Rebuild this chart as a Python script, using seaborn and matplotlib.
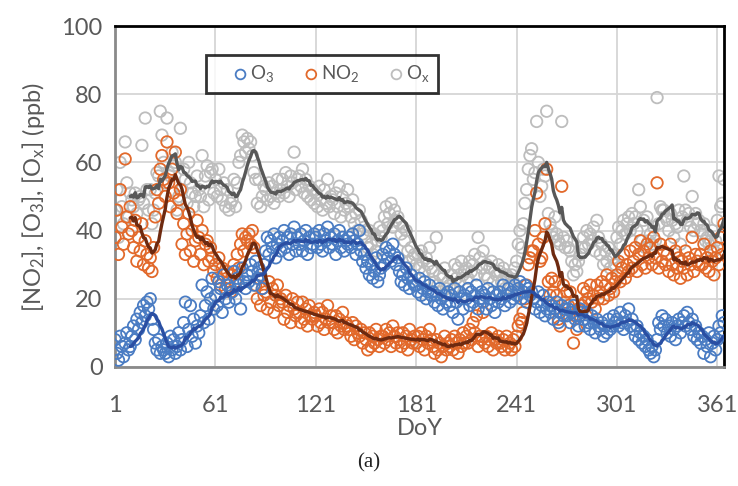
import numpy as np
import pandas as pd
import matplotlib
matplotlib.use("Agg")
import matplotlib.pyplot as plt
import seaborn as sns

# ---------------- data (daily values, ppb) ----------------
o3 = [
    8, 4, 2, 9, 6, 3, 7, 10, 5, 6,
    9, 12, 8, 14, 11, 16, 13, 18, 15, 19,
    17, 20, 14, 11, 7, 5, 8, 4, 6, 5,
    4, 7, 3, 9, 5, 8, 4, 6, 10, 5,
    8, 13, 19, 6, 11, 18, 9, 14, 7, 12,
    10, 15, 24, 13, 18, 22, 14, 20, 26, 17,
    21, 18, 25, 23, 16, 27, 20, 24, 19, 23,
    22, 28, 20, 26, 24, 17, 29, 25, 23, 27,
    25, 30, 28, 24, 31, 26, 29, 27, 23, 30,
    34, 38, 33, 37, 35, 39, 32, 36, 38, 34,
    37, 40, 35, 38, 33, 39, 36, 41, 34, 38,
    36, 39, 34, 37, 40, 33, 38, 35, 36, 39,
    38, 35, 40, 36, 34, 39, 37, 41, 35, 38,
    36, 39, 33, 37, 40, 35, 38, 34, 37, 36,
    38, 35, 39, 37, 33, 36, 40, 34, 31, 33,
    29, 31, 27, 30, 26, 28, 32, 25, 27, 29,
    33, 30, 35, 32, 34, 31, 36, 33, 30, 32,
    28, 25, 27, 24, 29, 26, 23, 27, 25, 24,
    24, 22, 26, 21, 23, 25, 20, 22, 24, 21,
    22, 19, 21, 18, 23, 20, 17, 21, 19, 22,
    18, 21, 16, 23, 19, 14, 22, 20, 17, 21,
    20, 23, 18, 22, 19, 21, 24, 17, 20, 22,
    19, 21, 17, 23, 20, 18, 22, 16, 21, 19,
    22, 20, 24, 18, 21, 23, 19, 22, 20, 24,
    21, 23, 25, 20, 22, 24, 19, 23, 21, 22,
    20, 17, 19, 22, 16, 18, 21, 15, 17, 19,
    16, 18, 14, 17, 19, 13, 16, 18, 15, 17,
    15, 17, 13, 16, 18, 14, 15, 12, 17, 16,
    14, 12, 16, 13, 11, 15, 13, 10, 14, 12,
    11, 13, 9, 12, 10, 14, 11, 12, 15, 13,
    14, 12, 16, 13, 11, 15, 13, 17, 12, 14,
    11, 9, 12, 8, 10, 7, 9, 6, 8, 5,
    4, 6, 3, 5, 8, 13, 11, 15, 12, 14,
    10, 12, 9, 13, 11, 8, 12, 14, 10, 13,
    15, 12, 16, 13, 11, 14, 9, 12, 8, 10,
    7, 9, 4, 8, 6, 10, 3, 7, 9, 5,
    8, 12, 10, 15, 13,
]

no2 = [
    38, 46, 33, 52, 41, 36, 61, 44, 39, 47,
    40, 35, 43, 31, 38, 34, 42, 30, 37, 33,
    29, 32, 28, 35, 44, 52, 48, 58, 62, 55,
    50, 66, 54, 47, 58, 51, 63, 45, 49, 52,
    36, 42, 33, 39, 45, 34, 40, 31, 37, 43,
    38, 33, 40, 30, 36, 37, 31, 35, 32, 28,
    30, 26, 32, 24, 29, 27, 23, 28, 25, 22,
    27, 30, 25, 33, 29, 36, 39, 34, 38, 37,
    39, 36, 40, 35, 24, 20, 26, 18, 23, 21,
    22, 17, 25, 19, 23, 16, 21, 24, 18, 20,
    19, 14, 21, 16, 18, 13, 20, 17, 15, 19,
    16, 13, 19, 14, 17, 12, 18, 15, 14, 16,
    15, 12, 17, 13, 16, 11, 14, 18, 13, 15,
    13, 11, 15, 10, 14, 12, 16, 11, 13, 12,
    11, 9, 13, 8, 12, 10, 9, 11, 7, 10,
    8, 5, 10, 6, 9, 7, 11, 8, 6, 9,
    9, 7, 11, 8, 10, 6, 12, 9, 7, 10,
    8, 6, 10, 7, 9, 5, 11, 8, 7, 9,
    7, 9, 6, 10, 8, 5, 9, 7, 11, 8,
    6, 4, 8, 5, 7, 3, 6, 9, 5, 7,
    6, 8, 5, 9, 7, 4, 8, 6, 10, 7,
    9, 7, 11, 8, 13, 10, 15, 6, 9, 8,
    16, 7, 9, 6, 8, 10, 5, 8, 7, 9,
    7, 6, 8, 5, 9, 6, 7, 5, 8, 6,
    9, 12, 14, 13, 16, 20, 24, 30, 32, 34,
    34, 40, 51, 36, 31, 32, 38, 42, 58, 25,
    21, 26, 22, 25, 21, 14, 12, 53, 24, 19,
    22, 18, 22, 16, 7, 15, 11, 17, 15, 18,
    23, 19, 22, 20, 24, 19, 21, 17, 24, 20,
    22, 25, 20, 24, 27, 21, 23, 26, 22, 25,
    27, 31, 25, 29, 33, 26, 30, 28, 34, 29,
    31, 35, 28, 33, 37, 30, 34, 29, 36, 32,
    35, 30, 38, 32, 54, 29, 36, 31, 34, 30,
    33, 28, 36, 30, 27, 34, 29, 32, 26, 31,
    29, 34, 27, 32, 30, 38, 28, 33, 31, 30,
    33, 30, 36, 29, 32, 28, 34, 31, 27, 32,
    35, 30, 38, 33, 42,
]

ox = [
    46, 52, 38, 60, 47, 42, 66, 54, 44, 51,
    49, 47, 51, 45, 49, 50, 65, 48, 73, 52,
    46, 52, 42, 46, 51, 57, 56, 75, 68, 60,
    54, 73, 57, 56, 63, 59, 60, 46, 50, 70,
    52, 58, 55, 48, 60, 54, 51, 47, 50, 56,
    52, 50, 62, 47, 56, 59, 49, 57, 58, 51,
    55, 50, 58, 52, 49, 54, 47, 52, 46, 48,
    49, 55, 47, 54, 60, 62, 68, 66, 63, 67,
    64, 66, 62, 57, 55, 48, 55, 47, 50, 53,
    52, 49, 54, 50, 53, 48, 51, 55, 50, 52,
    55, 51, 57, 53, 50, 56, 54, 63, 52, 55,
    56, 53, 58, 51, 55, 50, 53, 49, 52, 48,
    51, 47, 53, 49, 46, 52, 48, 55, 47, 50,
    49, 45, 51, 47, 53, 44, 50, 46, 48, 52,
    47, 44, 49, 42, 45, 40, 46, 43, 39, 41,
    38, 35, 40, 36, 33, 39, 34, 37, 41, 38,
    40, 44, 47, 42, 45, 48, 41, 46, 43, 44,
    42, 39, 41, 37, 40, 34, 31, 35, 32, 33,
    30, 33, 29, 34, 31, 28, 32, 30, 35, 29,
    28, 25, 38, 24, 27, 22, 26, 29, 23, 25,
    24, 27, 23, 30, 26, 29, 25, 31, 27, 28,
    29, 26, 31, 28, 30, 33, 27, 38, 32, 29,
    34, 27, 30, 26, 29, 31, 25, 28, 27, 30,
    28, 25, 29, 23, 27, 26, 24, 27, 25, 29,
    31, 36, 40, 35, 42, 48, 52, 58, 62, 64,
    55, 57, 72, 60, 50, 53, 58, 56, 75, 45,
    42, 40, 38, 44, 39, 37, 36, 72, 38, 35,
    37, 35, 34, 31, 27, 30, 28, 31, 33, 35,
    38, 35, 40, 36, 39, 37, 41, 34, 43, 38,
    33, 36, 30, 34, 31, 35, 29, 33, 32, 30,
    38, 41, 36, 40, 43, 39, 42, 44, 40, 45,
    42, 44, 40, 52, 47, 37, 43, 35, 44, 37,
    39, 36, 41, 37, 79, 42, 47, 46, 46, 44,
    43, 40, 45, 43, 38, 42, 41, 46, 36, 44,
    56, 46, 43, 45, 41, 50, 40, 45, 42, 43,
    40, 39, 42, 37, 38, 36, 37, 40, 34, 37,
    43, 56, 47, 48, 55,
]

x_ticks = [1, 61, 121, 181, 241, 301, 361]
y_ticks = [0, 20, 40, 60, 80, 100]
ma_window = 10

# ---------------- style ----------------
sns.set_theme(style="white")
plt.rcParams["font.family"] = ["Lato", "DejaVu Sans"]
plt.rcParams["mathtext.default"] = "regular"

c_o3, c_no2, c_ox = "#4A7CC3", "#E2692B", "#BDBDBD"
l_o3, l_no2, l_ox = "#2A4FA3", "#6E2A10", "#585858"
txt = "#595959"

doy = np.arange(1, len(o3) + 1)
df = pd.DataFrame({"DoY": doy, "O3": o3, "NO2": no2, "Ox": ox})
for c in ["O3", "NO2", "Ox"]:
    df[c + "_ma"] = df[c].rolling(ma_window).mean()

fig = plt.figure(figsize=(7.38, 4.86), dpi=100)
ax = fig.add_axes([0.156, 0.245, 0.825, 0.7015])

ax.set_xlim(1, 365)
ax.set_ylim(0, 100)
ax.set_xticks(x_ticks)
ax.set_yticks(y_ticks)
ax.grid(True, color="#D6D6D6", linewidth=1.3)
ax.set_axisbelow(True)

ms = 68
lw = 1.3
sns.scatterplot(data=df, x="DoY", y="Ox", ax=ax, s=ms, marker="o",
                facecolor="none", edgecolor=c_ox, linewidth=lw, label="O$_x$", zorder=2)
sns.scatterplot(data=df, x="DoY", y="NO2", ax=ax, s=ms, marker="o",
                facecolor="none", edgecolor=c_no2, linewidth=lw, label="NO$_2$", zorder=3)
sns.scatterplot(data=df, x="DoY", y="O3", ax=ax, s=ms, marker="o",
                facecolor="none", edgecolor=c_o3, linewidth=lw, label="O$_3$", zorder=4)

ma = df.dropna()
sns.lineplot(data=ma, x="DoY", y="Ox_ma", ax=ax, color=l_ox, linewidth=2.4,
             estimator=None, zorder=5, legend=False)
sns.lineplot(data=ma, x="DoY", y="NO2_ma", ax=ax, color=l_no2, linewidth=2.4,
             estimator=None, zorder=6, legend=False)
sns.lineplot(data=ma, x="DoY", y="O3_ma", ax=ax, color=l_o3, linewidth=2.4,
             estimator=None, zorder=7, legend=False)

# spines
for s in ["top", "right"]:
    ax.spines[s].set_color("black")
    ax.spines[s].set_linewidth(2.0)
for s in ["left", "bottom"]:
    ax.spines[s].set_color("#8A8A8A")
    ax.spines[s].set_linewidth(2.0)

ax.tick_params(axis="both", length=0, labelsize=17, colors=txt)
ax.tick_params(axis="x", pad=20)
ax.tick_params(axis="y", pad=9)
ax.set_xlabel("DoY", fontsize=17, color=txt, labelpad=2)
ax.set_ylabel("[NO$_2$], [O$_3$], [O$_x$] (ppb)", fontsize=17, color=txt, labelpad=10)

# legend
h, l = ax.get_legend_handles_labels()
order = [2, 1, 0]
leg = ax.legend([h[i] for i in order], [l[i] for i in order], ncol=3,
                loc="lower left", bbox_to_anchor=(0.149, 0.804, 0.381, 0.12),
                mode="expand", frameon=True, fontsize=13.5, handlelength=2.8,
                handletextpad=-0.9, borderpad=0.45, borderaxespad=0.0,
                markerscale=0.85, fancybox=False)
leg.get_frame().set_edgecolor("black")
leg.get_frame().set_linewidth(2.0)
for t in leg.get_texts():
    t.set_color(txt)
leg.set_zorder(10)

fig.text(0.5, 0.047, "(a)", ha="center", va="center", fontsize=15,
         family=["Liberation Serif", "DejaVu Serif"], color="#222222")

fig.savefig("out.png", dpi=100, facecolor="white")
